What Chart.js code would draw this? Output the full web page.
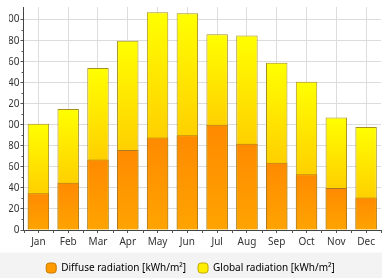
<!DOCTYPE html>
<html>
<head>
<meta charset="utf-8">
<script src="https://cdn.jsdelivr.net/npm/chart.js@4"></script>
<style>
html,body{margin:0;padding:0;width:382px;height:278px;overflow:hidden;
background:linear-gradient(#ffffff 0px,#ffffff 252px,#f3f3f3 253px,#f3f3f3 278px);}
#wrap{position:absolute;left:9px;top:0;width:373px;height:278px;overflow:hidden;}
#c{position:absolute;left:-9px;top:0;}
</style>
</head>
<body>
<div id="wrap"><canvas id="c" width="382" height="283"></canvas></div>
<script>
const months = ['Jan','Feb','Mar','Apr','May','Jun','Jul','Aug','Sep','Oct','Nov','Dec'];
const diffuse = [35,45,67,76,88,90,100,82,64,53,40,31];
const globalRad = [101,115,154,180,207,206,186,185,159,141,107,98];
const yTicks = [0,20,40,60,80,100,120,140,160,180,200];
const seriesNames = ['Diffuse radiation [kWh/m\u00B2]','Global radiation [kWh/m\u00B2]'];

function grad(ctx, top, bottom, c1, c2){
  const g = ctx.createLinearGradient(0, top, 0, bottom);
  g.addColorStop(0, c1); g.addColorStop(1, c2);
  return g;
}
function diffuseFill(c){
  const ch = c.chart; if(!ch.chartArea || c.type !== 'data') return '#ff9600';
  const y = ch.scales.y;
  return grad(ch.ctx, y.getPixelForValue(diffuse[c.dataIndex]), y.getPixelForValue(0), '#ff8a00', '#ffa400');
}
function globalFill(c){
  const ch = c.chart; if(!ch.chartArea || c.type !== 'data') return '#ffee00';
  const y = ch.scales.y;
  return grad(ch.ctx, y.getPixelForValue(globalRad[c.dataIndex]), y.getPixelForValue(diffuse[c.dataIndex]), '#ffff00', '#ffd000');
}

const extraTicks = {
  id:'extraTicks',
  afterDraw(chart){
    const ctx = chart.ctx, y = chart.scales.y, a = chart.chartArea;
    ctx.save();
    ctx.strokeStyle = '#555'; ctx.lineWidth = 1;
    ctx.beginPath();
    for(let v=10; v<=190; v+=20){
      const py = Math.round(y.getPixelForValue(v))+0.5;
      ctx.moveTo(a.left-2, py); ctx.lineTo(a.left, py);
    }
    const w = (a.right - a.left)/months.length;
    for(let i=0;i<=months.length;i++){
      const px = Math.round(a.left + i*w)+0.5;
      ctx.moveTo(px, a.bottom); ctx.lineTo(px, a.bottom+3);
    }
    ctx.stroke();
    ctx.restore();
  }
};

new Chart(document.getElementById('c'), {
  type:'bar',
  data:{
    labels: months,
    datasets:[
      {label: seriesNames[0], data: diffuse, backgroundColor: diffuseFill,
       borderColor:'#b4781c', borderWidth:1, barPercentage:0.72, categoryPercentage:1},
      {label: seriesNames[1], data: globalRad, backgroundColor: globalFill,
       borderColor:'#a89020', borderWidth:1, barPercentage:0.72, categoryPercentage:1}
    ]
  },
  options:{
    responsive:false, animation:false,
    layout:{padding:{left:0,right:1,top:5,bottom:0}},
    plugins:{
      tooltip:{enabled:false},
      legend:{
        position:'bottom',
        labels:{
          font:{family:'"Noto Sans", "Open Sans", sans-serif', size:10},
          color:'#333',
          boxWidth:10, boxHeight:10, padding:12,
          useBorderRadius:true, borderRadius:3,
          generateLabels(){
            return [
              {text:seriesNames[0], fillStyle:'#ff9a00', strokeStyle:'#c87800', lineWidth:1, datasetIndex:0, borderRadius:3},
              {text:seriesNames[1], fillStyle:'#ffee00', strokeStyle:'#c0a800', lineWidth:1, datasetIndex:1, borderRadius:3}
            ];
          }
        }
      }
    },
    scales:{
      x:{
        stacked:true,
        grid:{offset:false, color:'#dcdcdc', tickColor:'#555', tickLength:3, drawTicks:true},
        border:{color:'#444'},
        ticks:{font:{family:'"Noto Sans", "Open Sans", sans-serif', size:10}, color:'#333', padding:3, maxRotation:0}
      },
      y:{
        stacked:false, min:0, max:212,
        afterBuildTicks(s){ s.ticks = yTicks.map(v=>({value:v})); },
        afterFit(s){ s.width = 23.5; },
        grid:{color:'#dcdcdc', tickColor:'#555', tickLength:3},
        border:{color:'#444'},
        ticks:{font:{family:'"Noto Sans", "Open Sans", sans-serif', size:10}, color:'#333', padding:1}
      }
    }
  },
  plugins:[extraTicks]
});
</script>
</body>
</html>
